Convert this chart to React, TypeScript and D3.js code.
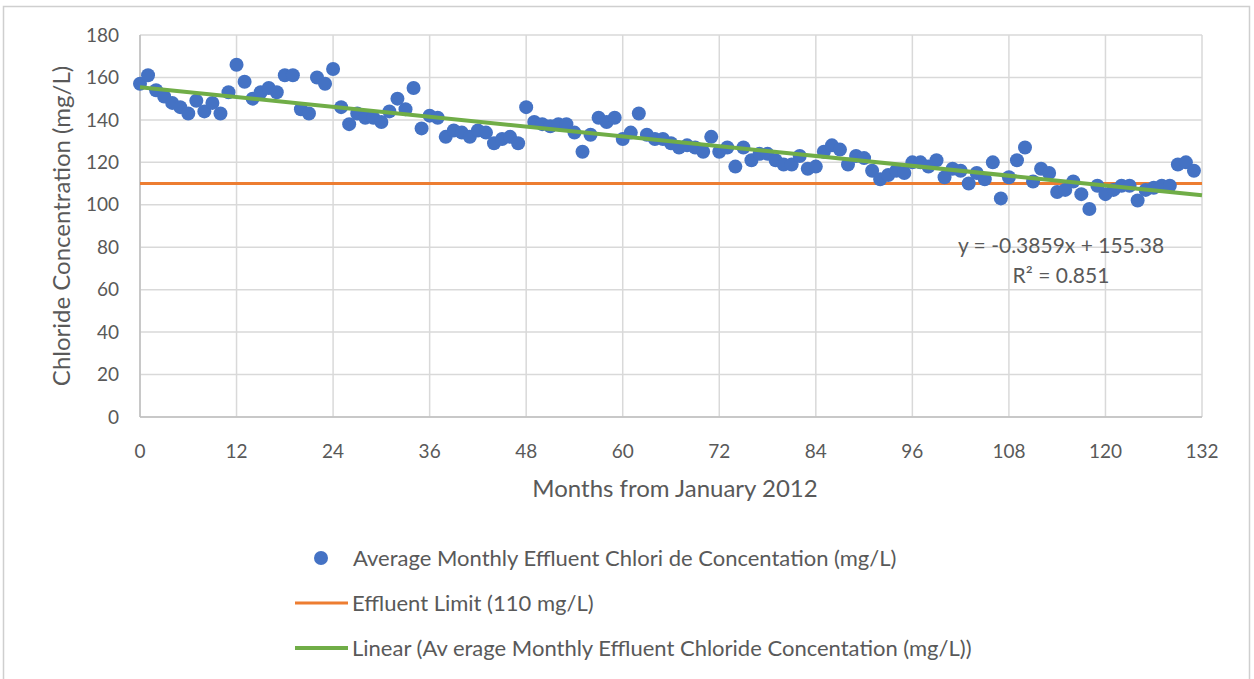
import React from 'react';
import * as d3 from 'd3';

// monthly average effluent chloride (mg/L), month 0 = January 2012
const chloride = [
  157, 161, 154, 151, 148, 146, 143, 149, 144, 148, 143, 153,
  166, 158, 150, 153, 155, 153, 161, 161, 145, 143, 160, 157,
  164, 146, 138, 143, 141, 141, 139, 144, 150, 145, 155, 136,
  142, 141, 132, 135, 134, 132, 135, 134, 129, 131, 132, 129,
  146, 139, 138, 137, 138, 138, 134, 125, 133, 141, 139, 141,
  131, 134, 143, 133, 131, 131, 129, 127, 128, 127, 125, 132,
  125, 127, 118, 127, 121, 124, 124, 121, 119, 119, 123, 117,
  118, 125, 128, 126, 119, 123, 122, 116, 112, 114, 116, 115,
  120, 120, 118, 121, 113, 117, 116, 110, 115, 112, 120, 103,
  113, 121, 127, 111, 117, 115, 106, 107, 111, 105, 98, 109,
  105, 107, 109, 109, 102, 107, 108, 109, 109, 119, 120, 116,
];
const effluentLimit = 110;
const trendSlope = -0.3859;
const trendIntercept = 155.38;
const trendR2 = 0.851;
const xTicks = [0, 12, 24, 36, 48, 60, 72, 84, 96, 108, 120, 132];
const yTicks = [0, 20, 40, 60, 80, 100, 120, 140, 160, 180];
const legendLabels = [
  'Average Monthly Effluent Chlori de Concentation (mg/L)',
  'Effluent Limit (110 mg/L)',
  'Linear (Av erage Monthly Effluent Chloride Concentation (mg/L))',
];

const BLUE = '#4472C4';
const ORANGE = '#ED7D31';
const GREEN = '#70AD47';
const GRID = '#d9d9d9';
const TEXT = '#595959';
const FONT = 'Lato, "Open Sans", sans-serif';

export default function App() {
  const width = 1254, height = 679;
  const plot = { left: 140, right: 1202, top: 35, bottom: 417 };

  const x = d3.scaleLinear().domain([0, 132]).range([plot.left, plot.right]);
  const y = d3.scaleLinear().domain([0, 180]).range([plot.bottom, plot.top]);

  const points = chloride.map((v, i) => ({ m: i, v }));
  const limitLine = d3.line<[number, number]>()(
    (x.domain() as number[]).map((m) => [x(m), y(effluentLimit)] as [number, number])
  );
  const trendLine = d3.line<[number, number]>()(
    [0, 132].map((m) => [x(m), y(trendIntercept + trendSlope * m)] as [number, number])
  );

  return (
    <svg width={width} height={height} style={{ position: 'absolute', left: 0, top: 0, background: '#fff' }}
      fontFamily={FONT}>
      <rect x={3.5} y={6.5} width={1246} height={680} fill="#fff" stroke="#cfcfcf" strokeWidth={1.5} />

      {/* grid */}
      {yTicks.map((t) => (
        <line key={`gy-${t}`} x1={plot.left} x2={plot.right} y1={y(t)} y2={y(t)} stroke={GRID} strokeWidth={1.5} />
      ))}
      {xTicks.map((t) => (
        <line key={`gx-${t}`} x1={x(t)} x2={x(t)} y1={plot.top} y2={plot.bottom} stroke={GRID} strokeWidth={1.5} />
      ))}
      <line x1={plot.left} x2={plot.left} y1={plot.top} y2={plot.bottom} stroke="#bfbfbf" strokeWidth={1.5} />
      <line x1={plot.left} x2={plot.right} y1={plot.bottom} y2={plot.bottom} stroke="#bfbfbf" strokeWidth={1.5} />

      {/* tick labels */}
      {yTicks.map((t) => (
        <text key={`ty-${t}`} x={119} y={y(t)} dy="0.35em" textAnchor="end" fontSize={19} fill={TEXT}>{t}</text>
      ))}
      {xTicks.map((t) => (
        <text key={`tx-${t}`} x={x(t)} y={451} dy="0.35em" textAnchor="middle" fontSize={19} fill={TEXT}>{t}</text>
      ))}

      {/* axis titles */}
      <text x={675} y={489} dy="0.35em" textAnchor="middle" fontSize={24} fill={TEXT}>Months from January 2012</text>
      <text transform={`translate(62,${(plot.top + plot.bottom) / 2}) rotate(-90)`} dy="0.35em" textAnchor="middle"
        fontSize={24} fill={TEXT}>Chloride Concentration (mg/L)</text>

      {/* series */}
      <path d={limitLine || ''} stroke={ORANGE} strokeWidth={3} fill="none" />
      {points.map((d) => (
        <circle key={`p-${d.m}`} cx={x(d.m)} cy={y(d.v)} r={7} fill={BLUE} />
      ))}
      <path d={trendLine || ''} stroke={GREEN} strokeWidth={4} fill="none" />

      {/* trendline label */}
      <text x={1061} y={246} dy="0.35em" textAnchor="middle" fontSize={21} fill={TEXT}>
        {`y = ${trendSlope}x + ${trendIntercept}`}
      </text>
      <text x={1061} y={276} dy="0.35em" textAnchor="middle" fontSize={21} fill={TEXT}>
        {`R² = ${trendR2}`}
      </text>

      {/* legend */}
      <circle cx={321} cy={558} r={7} fill={BLUE} />
      <text x={353} y={558} dy="0.35em" fontSize={22} fill={TEXT}>{legendLabels[0]}</text>
      <line x1={295} x2={348} y1={603} y2={603} stroke={ORANGE} strokeWidth={3} />
      <text x={352} y={603} dy="0.35em" fontSize={22} fill={TEXT}>{legendLabels[1]}</text>
      <line x1={295} x2={348} y1={648} y2={648} stroke={GREEN} strokeWidth={4} />
      <text x={352} y={648} dy="0.35em" fontSize={22} fill={TEXT}>{legendLabels[2]}</text>
    </svg>
  );
}
